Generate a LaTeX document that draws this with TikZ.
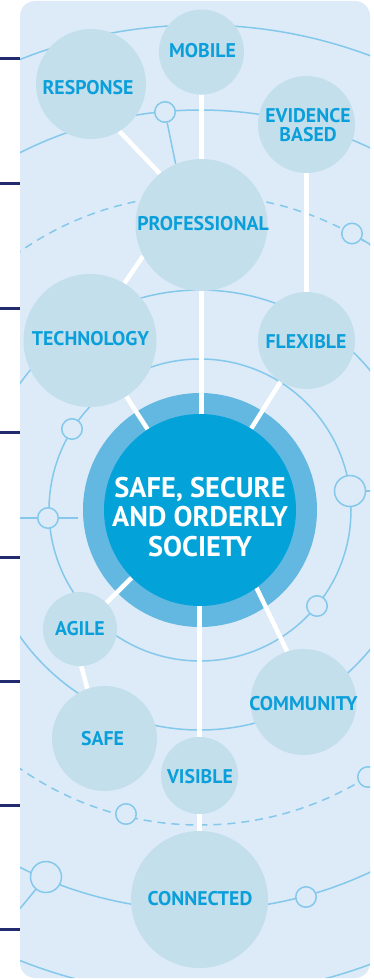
\documentclass[tikz,border=0pt]{standalone}
\usepackage{fontspec}
\setmainfont{PT Sans}
\definecolor{panel}{HTML}{DCEBF7}
\definecolor{satfill}{HTML}{C4DFEC}
\definecolor{lblblue}{HTML}{0A9FDA}
\definecolor{arcblue}{HTML}{84C8EC}
\definecolor{ringblue}{HTML}{62B8E1}
\definecolor{coreblue}{HTML}{03A3DA}
\definecolor{navy}{HTML}{222B6E}
\pgfdeclarelayer{arcs}
\pgfdeclarelayer{ringl}
\pgfdeclarelayer{links}
\pgfsetlayers{arcs,ringl,links,main}
\begin{document}
\begin{tikzpicture}[x=1pt,y=-1pt,
  sat/.style={circle, fill=satfill, inner sep=0pt, minimum size=#1},
  lbl/.style={text=lblblue, font=\bfseries\fontsize{19.8}{18.5}\selectfont, align=center, inner sep=0pt},
  smalldot/.style={circle, draw=arcblue, fill=panel, line width=1.5pt, inner sep=0pt, minimum size=#1},
  orbit/.style={draw=arcblue, line width=1.5pt},
  spoke/.style={draw=arcblue, line width=1.5pt},
  link/.style={draw=white, line width=4.5pt},
  navytick/.style={draw=navy, line width=3pt}]
\useasboundingbox (0,0) rectangle (374,979);

% navy ticks on the left
\foreach \yy in {59,183,308,432,557,681,805,929}
  \draw[navytick] (0,\yy) -- (20,\yy);

% satellite circles and core
\node[sat=110] (response) at (91,84) {};
\node[sat=85] (mobile) at (201.5,52) {};
\node[sat=97] (evidence) at (306.5,124.5) {};
\node[sat=132] (prof) at (201.5,225) {};
\node[sat=133] (tech) at (90,340.5) {};
\node[sat=97] (flex) at (306.5,340.5) {};
\node[sat=74] (agile) at (80,629) {};
\node[sat=106] (community) at (303.5,702) {};
\node[sat=105] (safe) at (104.5,738.5) {};
\node[sat=77] (visible) at (199.5,775.5) {};
\node[sat=137] (connected) at (199.5,899.5) {};
\node[circle, fill=coreblue, inner sep=0pt, minimum size=192] (core) at (200,510) {};

% labels
\node[lbl] (responseT) at (88,88) {RESPONSE};
\node[lbl] (mobileT) at (202.5,51) {MOBILE};
\node[lbl] (evidenceT) at (308,125) {EVIDENCE\\BASED};
\node[lbl] (profT) at (203,224) {PROFESSIONAL};
\node[lbl] (techT) at (90.5,339) {TECHNOLOGY};
\node[lbl] (flexT) at (306,342) {FLEXIBLE};
\node[lbl] (agileT) at (80,629) {AGILE};
\node[lbl] (communityT) at (303.5,704) {COMMUNITY};
\node[lbl] (safeT) at (102.5,739) {SAFE};
\node[lbl] (visibleT) at (200,777) {VISIBLE};
\node[lbl] (connectedT) at (200,899) {CONNECTED};
\node[text=white, font=\bfseries\fontsize{28.4}{29.5}\selectfont, align=center, inner sep=0pt] (coreT) at (200,517) {SAFE, SECURE\\AND ORDERLY\\SOCIETY};

% background panel, orbits, small circles
\begin{pgfonlayer}{arcs}
  \fill[panel, rounded corners=15pt] (20,1) rectangle (370,978);
  \begin{scope}
    \clip[rounded corners=15pt] (20,1) rectangle (370,978);
    \draw[orbit] (200,510) circle[radius=151pt];
    \draw[orbit] (200,510) circle[radius=220pt];
    \draw[orbit, dash pattern=on 8pt off 6pt] (200,510) circle[radius=315pt];
    \draw[orbit] (200,510) circle[radius=400pt];
    \draw[orbit] (200,510) circle[radius=485pt];
    \coordinate (h4l) at (20,518);
    \coordinate (h4r) at (78,518);
    \coordinate (h5r) at (372,491);
    \coordinate (e2) at (372,245.5);
    \coordinate (e9) at (18,911);
    \draw[spoke] (h4l) -- (h4r);
    \node[smalldot=20.5] (c1) at (165,112) {};
    \node[smalldot=20.5] (c2) at (352,233.5) {};
    \node[smalldot=20.5] (c3) at (72,429) {};
    \node[smalldot=20.5] (c4) at (48,518) {};
    \node[smalldot=31] (c5) at (350,491) {};
    \node[smalldot=20.5] (c6) at (317,606) {};
    \node[smalldot=20.5] (c7) at (126,814) {};
    \node[smalldot=20.5] (c8) at (368,777) {};
    \node[smalldot=31] (c9) at (46,877) {};
    \node[smalldot=20.5] (c10) at (306,897) {};
    \draw[spoke] (c1) -- (prof.113);
    \draw[spoke] (c2) -- (e2);
    \draw[spoke] (c5) -- (h5r);
    \draw[spoke] (c9) -- (e9);
  \end{scope}
\end{pgfonlayer}

% outer ring
\begin{pgfonlayer}{ringl}
  \node[circle, fill=ringblue, inner sep=0pt, minimum size=234] (ring) at (200,510) {};
\end{pgfonlayer}

% white links
\begin{pgfonlayer}{links}
  \draw[link] (response.-59) -- (prof.129);
  \draw[link] (mobile) -- (prof);
  \draw[link] (evidence) -- (flex);
  \draw[link] (prof.208) -- (tech.59);
  \draw[link] (prof.south) -- (prof.south |- core.center);
  \draw[link] (tech) -- (core);
  \draw[link] (flex) -- (core);
  \draw[link] (core) -- (agile);
  \draw[link] (agile.-88) -- (safe.109);
  \draw[link] (core.-54) -- (community.108);
  \draw[link] (visible.north) -- (visible.north |- core.center);
  \draw[link] (visible) -- (connected);
\end{pgfonlayer}
\end{tikzpicture}
\end{document}
